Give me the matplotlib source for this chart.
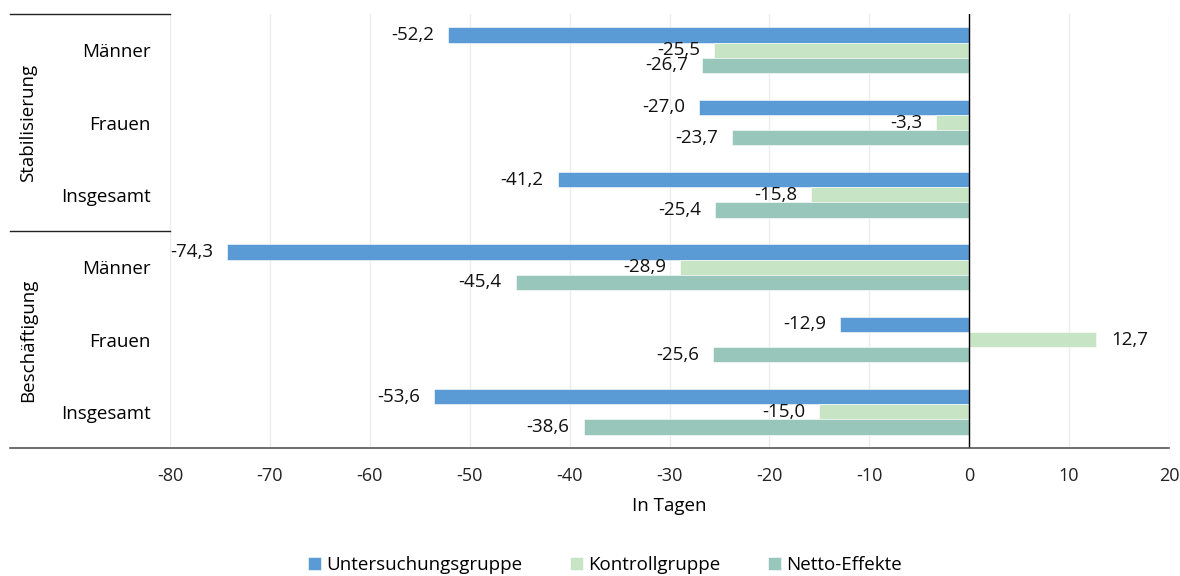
import numpy as np
import matplotlib.pyplot as plt
from matplotlib.lines import Line2D

# ---------------- Data ----------------
groups = ["Stabilisierung", "Beschäftigung"]
categories = ["Männer", "Frauen", "Insgesamt", "Männer", "Frauen", "Insgesamt"]
series_names = ["Untersuchungsgruppe", "Kontrollgruppe", "Netto-Effekte"]
untersuchung = [-52.2, -27.0, -41.2, -74.3, -12.9, -53.6]
kontrolle = [-25.5, -3.3, -15.8, -28.9, 12.7, -15.0]
netto = [-26.7, -23.7, -25.4, -45.4, -25.6, -38.6]
colors = ["#5B9BD5", "#C7E4C5", "#99C6BB"]

plt.rcParams['font.family'] = ['Open Sans', 'DejaVu Sans']
plt.rcParams['axes.unicode_minus'] = False

fig = plt.figure(figsize=(11.8, 5.76), dpi=100)
W, H = 1180, 576
ax = fig.add_axes([170 / W, 1 - 448 / H, 999 / W, 434 / H])

n = len(categories)
y = np.arange(n)
h = 0.21
for i, (vals, c, name) in enumerate(zip([untersuchung, kontrolle, netto], colors, series_names)):
    pos = y + (i - 1) * h
    ax.barh(pos, vals, height=h, color=c, edgecolor='white', linewidth=0.4, label=name, zorder=2)
    for p, v in zip(pos, vals):
        txt = f"{v:.1f}".replace('.', ',')
        off = -14 if v < 0 else 15
        ax.annotate(txt, (v, p), xytext=(off, 0), textcoords='offset pixels',
                    ha='right' if v < 0 else 'left', va='center', fontsize=13.5, color='#111111')

ax.set_ylim(n - 0.5, -0.5)
ax.set_xlim(-80, 20)
ax.set_xticks(np.arange(-80, 21, 10))
ax.tick_params(axis='x', length=0, labelsize=13, pad=14, colors='#222222')
ax.set_yticks(y)
ax.set_yticklabels(categories, fontsize=13.5)
ax.tick_params(axis='y', length=0, pad=14)
ax.grid(axis='x', color='#ebebf0', lw=1, zorder=0)
ax.axvline(0, color='black', lw=1, zorder=3)
for s in ax.spines.values():
    s.set_visible(False)
ax.set_xlabel("In Tagen", fontsize=13.5, labelpad=8)

# group separators and labels
for yy in [14, 231]:
    fig.add_artist(Line2D([10 / W, 170 / W], [1 - yy / H] * 2, color='#222222', lw=1))
fig.add_artist(Line2D([10 / W, 1169 / W], [1 - 448 / H] * 2, color='#555555', lw=1.2))
fig.text(28 / W, 1 - 123 / H, groups[0], rotation=90, ha='center', va='center', fontsize=13.5)
fig.text(28 / W, 1 - 340 / H, groups[1], rotation=90, ha='center', va='center', fontsize=13.5)

fig.legend(loc='center', bbox_to_anchor=(605 / W, 1 - 565 / H), ncol=3, frameon=False,
           fontsize=13.5, handlelength=0.7, handleheight=0.7, handletextpad=0.3, columnspacing=2.5)

fig.savefig("out.png", dpi=100)
